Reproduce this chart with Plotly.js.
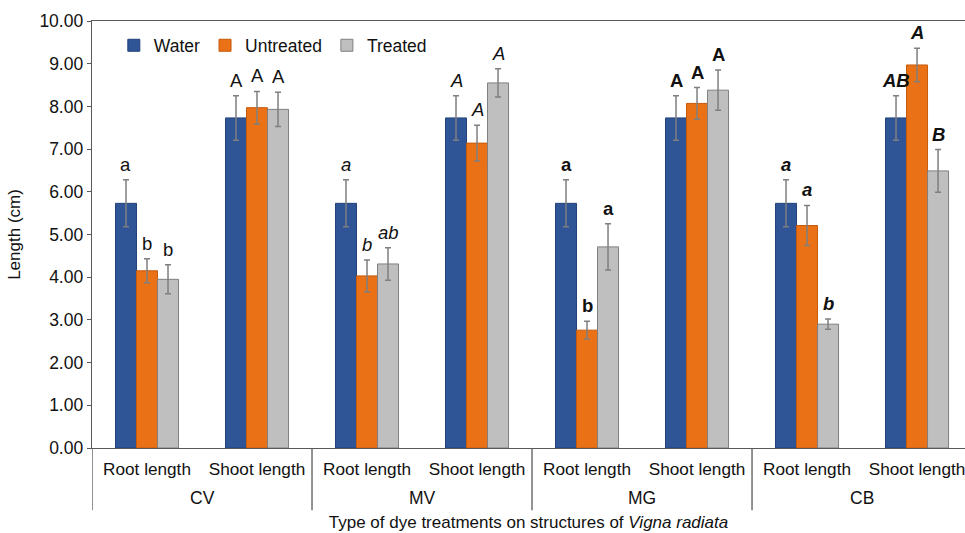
<!DOCTYPE html>
<html><head><meta charset="utf-8">
<script src="https://cdn.plot.ly/plotly-3.0.1.min.js"></script>
<style>body{margin:0;background:#fff}#chart{width:965px;height:533px}</style>
</head><body><div id="chart"></div>
<script>
// Data
const dyes = ["CV", "MV", "MG", "CB"];
const structures = ["Root length", "Shoot length"];
const seriesNames = ["Water", "Untreated", "Treated"];
// order: CV root, CV shoot, MV root, MV shoot, MG root, MG shoot, CB root, CB shoot
const water     = [5.73, 7.73, 5.73, 7.73, 5.73, 7.73, 5.73, 7.73];
const waterErr  = [0.55, 0.52, 0.55, 0.52, 0.55, 0.52, 0.55, 0.52];
const untreated    = [4.15, 7.97, 4.03, 7.14, 2.76, 8.07, 5.21, 8.97];
const untreatedErr = [0.28, 0.38, 0.37, 0.42, 0.21, 0.37, 0.47, 0.39];
const treated    = [3.95, 7.93, 4.31, 8.55, 4.71, 8.38, 2.90, 6.49];
const treatedErr = [0.34, 0.40, 0.38, 0.33, 0.54, 0.47, 0.12, 0.50];
const waterLetters     = ["a", "A", "a", "A", "a", "A", "a", "AB"];
const untreatedLetters = ["b", "A", "b", "A", "b", "A", "a", "A"];
const treatedLetters   = ["b", "A", "ab", "A", "a", "A", "b", "B"];
// letter style per dye group
const letterStyle = ["normal", "italic", "bold", "bolditalic"];

const colors = ["#2F5597", "#EB7117", "#BFBFBF"];
const lineColors = ["#23427a", "#c55a0c", "#7f7f7f"];
const FONT = "Liberation Sans, Arial, sans-serif";
const TXT = "#111111";

const xs = [];
const tickText = [];
dyes.forEach((d, i) => structures.forEach((s, j) => { xs.push(i * 2 + j); tickText.push(s); }));

const vals = [water, untreated, treated];
const errs = [waterErr, untreatedErr, treatedErr];
const letters = [waterLetters, untreatedLetters, treatedLetters];

const bargap = 0.427;
const bw = (1 - bargap) / 3;

const traces = vals.map((v, k) => ({
  type: "bar", name: seriesNames[k], x: xs, y: v,
  marker: {color: colors[k], line: {color: lineColors[k], width: 1}},
  error_y: {type: "data", array: errs[k], visible: true, color: "#7f7f7f", thickness: 1.5, width: 3}
}));

const annotations = [];
vals.forEach((v, k) => {
  v.forEach((val, i) => {
    const st = letterStyle[Math.floor(i / 2)];
    let t = letters[k][i];
    if (st === "italic") t = "<i>" + t + "</i>";
    else if (st === "bold") t = "<b>" + t + "</b>";
    else if (st === "bolditalic") t = "<b><i>" + t + "</i></b>";
    annotations.push({
      x: xs[i] + (k - 1) * bw, y: val + errs[k][i], xref: "x", yref: "y",
      text: t, showarrow: false, yanchor: "bottom", yshift: 3,
      font: {family: FONT, size: 18.5, color: TXT}
    });
  });
});
dyes.forEach((d, i) => {
  annotations.push({
    x: i * 2 + 0.5, y: -0.117, xref: "x", yref: "paper", text: d, showarrow: false,
    yanchor: "middle", font: {family: FONT, size: 17.5, color: TXT}
  });
});

const shapes = [];
for (let i = 0; i <= dyes.length; i++) {
  shapes.push({type: "line", xref: "x", yref: "paper", x0: i * 2 - 0.5, x1: i * 2 - 0.5,
    y0: 0, y1: -0.146, line: {color: "#595959", width: 1.3}});
}

const layout = {
  width: 965, height: 533,
  margin: {l: 92, r: 0, t: 21, b: 85},
  paper_bgcolor: "#fff", plot_bgcolor: "#fff",
  barmode: "group", bargap: bargap, bargroupgap: 0,
  font: {family: FONT, size: 17.5, color: TXT},
  showlegend: true,
  legend: {orientation: "h", x: 0.025, y: 0.985, xanchor: "left", yanchor: "top",
    font: {family: FONT, size: 17.5, color: TXT}, bgcolor: "rgba(0,0,0,0)", itemwidth: 30, tracegroupgap: 0},
  xaxis: {
    range: [-0.5, 7.436], tickvals: xs, ticktext: tickText,
    showline: true, linecolor: "#595959", linewidth: 1.3, mirror: true,
    ticks: "", ticklabelstandoff: 5, ticklabeloverflow: "allow", showgrid: false, zeroline: false,
    tickfont: {family: FONT, size: 17.2, color: TXT},
    title: {text: "Type of dye treatments on structures of <i>Vigna radiata</i>", standoff: 38,
      font: {family: FONT, size: 17, color: TXT}},
    automargin: false
  },
  yaxis: {
    range: [0, 10], dtick: 1, tick0: 0, tickformat: ".2f",
    showline: true, linecolor: "#595959", linewidth: 1.3,
    ticks: "outside", ticklen: 4, tickcolor: "#595959",
    showgrid: false, zeroline: false,
    tickfont: {family: FONT, size: 17.5, color: TXT},
    title: {text: "Length (cm)", standoff: 14, font: {family: FONT, size: 17, color: TXT}},
    automargin: false
  },
  annotations: annotations, shapes: shapes
};

Plotly.newPlot("chart", traces, layout, {displayModeBar: false, staticPlot: true});
</script></body></html>
